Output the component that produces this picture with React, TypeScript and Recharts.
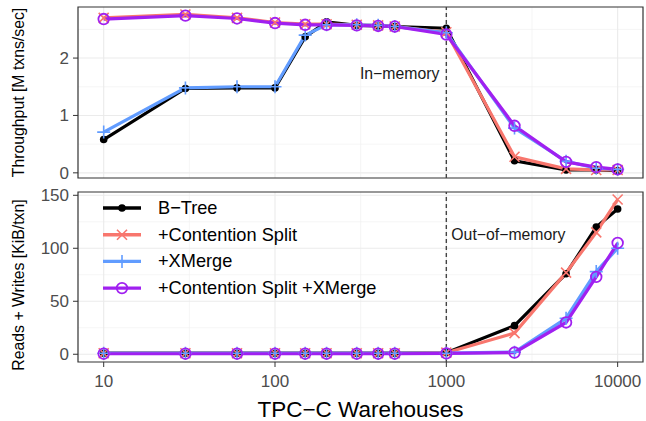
import React from 'react';
import { LineChart, Line, XAxis, YAxis, CartesianGrid, ReferenceLine, ReferenceArea, Legend } from 'recharts';

const FONT = '"Liberation Sans", Arial, Helvetica, sans-serif';

// TPC-C warehouse counts (x axis, log scale)
const warehouses = [10, 30, 60, 100, 150, 200, 300, 400, 500, 1000, 2500, 5000, 7500, 10000];

// Throughput [M txns/sec]
const tputBTree = [0.58, 1.47, 1.48, 1.48, 2.37, 2.63, 2.57, 2.56, 2.55, 2.52, 0.21, 0.05, 0.05, 0.04];
const tputSplit = [2.70, 2.76, 2.70, 2.62, 2.59, 2.59, 2.58, 2.57, 2.55, 2.45, 0.28, 0.07, 0.05, 0.05];
const tputXMerge = [0.71, 1.48, 1.50, 1.50, 2.40, 2.58, 2.58, 2.57, 2.55, 2.44, 0.78, 0.20, 0.08, 0.06];
const tputBoth = [2.68, 2.74, 2.69, 2.61, 2.58, 2.58, 2.57, 2.56, 2.55, 2.41, 0.82, 0.19, 0.10, 0.06];

// Reads + Writes [KiB/txn]
const ioBTree = [1, 1, 1, 1, 1, 1, 1, 1, 1, 1.5, 27, 76, 120, 137];
const ioSplit = [1, 1, 1, 1, 1, 1, 1, 1, 1, 1.5, 20, 77, 115, 146];
const ioXMerge = [1, 1, 1, 1, 1, 1, 1, 1, 1, 1, 2, 34, 78, 100];
const ioBoth = [0.5, 0.5, 0.5, 0.5, 0.5, 0.5, 0.5, 0.5, 0.5, 0.8, 1.6, 30, 73, 105];

const xTicks = [10, 100, 1000, 10000];
const xMinor = [31.62, 316.2, 3162];
const xDomain: [number, number] = [7.08, 14060];

const seriesMeta = [
  { key: 'btree', name: 'B−Tree', color: '#000000', marker: 'dot' },
  { key: 'split', name: '+Contention Split', color: '#F8766D', marker: 'cross' },
  { key: 'xmerge', name: '+XMerge', color: '#619CFF', marker: 'plus' },
  { key: 'both', name: '+Contention Split +XMerge', color: '#A020F0', marker: 'ring' },
];

const tputData = warehouses.map((w, i) => ({
  w, btree: tputBTree[i], split: tputSplit[i], xmerge: tputXMerge[i], both: tputBoth[i],
}));
const ioData = warehouses.map((w, i) => ({
  w, btree: ioBTree[i], split: ioSplit[i], xmerge: ioXMerge[i], both: ioBoth[i],
}));

const BOT_TOP = 186; // page offset of the lower panel's chart

function drawMarker(marker: string, color: string, cx: number, cy: number) {
  if (marker === 'dot') return <circle cx={cx} cy={cy} r={3.8} fill={color} />;
  if (marker === 'cross') {
    const d = 5;
    return <path d={`M${cx - d},${cy - d}L${cx + d},${cy + d}M${cx - d},${cy + d}L${cx + d},${cy - d}`} stroke={color} strokeWidth={1.6} fill="none" />;
  }
  if (marker === 'plus') {
    const d = 6.5;
    return <path d={`M${cx - d},${cy}L${cx + d},${cy}M${cx},${cy - d}L${cx},${cy + d}`} stroke={color} strokeWidth={1.6} fill="none" />;
  }
  return <circle cx={cx} cy={cy} r={5.3} fill="none" stroke={color} strokeWidth={1.8} />;
}

const YTitle = (props: any) => {
  const { viewBox, text, shift = 0 } = props;
  const cx = 18;
  const cy = viewBox.y + viewBox.height / 2 + shift;
  return (
    <text x={cx} y={cy} transform={`rotate(-90 ${cx} ${cy})`} textAnchor="middle" dominantBaseline="central"
      fontSize={15.8} fontFamily={FONT} fill="#000">{text}</text>
  );
};

const NoteLabel = (props: any) => {
  const { viewBox, text, dx, dy, anchor } = props;
  return (
    <text x={viewBox.x + dx} y={viewBox.y + dy} textAnchor={anchor} dominantBaseline="central"
      fontSize={15.8} fontFamily={FONT} fill="#1A1A1A">{text}</text>
  );
};

const XTitle = (props: any) => {
  const { viewBox } = props;
  return (
    <text x={viewBox.x + viewBox.width / 2} y={416.5 - BOT_TOP} textAnchor="middle"
      fontSize={22.5} fontFamily={FONT} fill="#000">TPC−C Warehouses</text>
  );
};

const renderLegend = () => (
  <svg width={520} height={125} style={{ display: 'block' }}>
    {seriesMeta.map((s, i) => {
      const y = 208 - BOT_TOP + i * 26.7;
      return (
        <g key={s.key}>
          <line x1={103} x2={141} y1={y} y2={y} stroke={s.color} strokeWidth={3.4} />
          {drawMarker(s.marker, s.color, 122, y)}
          <text x={158} y={y} dominantBaseline="central" fontSize={18.2} fontFamily={FONT} fill="#000">{s.name}</text>
        </g>
      );
    })}
  </svg>
);

const tickStyle = { fill: '#4D4D4D', fontSize: 17, fontFamily: FONT };

function seriesLines() {
  return seriesMeta.map((s) => (
    <Line
      key={s.key}
      dataKey={s.key}
      name={s.name}
      type="linear"
      stroke={s.color}
      strokeWidth={3.2}
      isAnimationActive={false}
      activeDot={false}
      dot={(p: any) => <g key={`${s.key}-${p.index}`}>{drawMarker(s.marker, s.color, p.cx, p.cy)}</g>}
    />
  ));
}

export default function App() {
  const topDomain: [number, number] = [-0.09, 2.89];
  const botDomain: [number, number] = [-7.3, 153.1];
  return (
    <div style={{ position: 'absolute', left: 0, top: 0, width: 646, height: 421, background: '#fff' }}>
      <div style={{ position: 'absolute', left: 0, top: 0 }}>
        <LineChart width={646} height={BOT_TOP} data={tputData} margin={{ top: 7, right: 3, bottom: BOT_TOP - 178, left: 0 }}>
          <CartesianGrid verticalValues={xMinor} horizontalValues={[0.5, 1.5, 2.5]} stroke="#F0F0F0" strokeWidth={0.7} />
          <CartesianGrid verticalValues={xTicks} horizontalValues={[0, 1, 2]} stroke="#EBEBEB" strokeWidth={1.1} />
          <XAxis dataKey="w" type="number" scale="log" domain={xDomain} allowDataOverflow ticks={xTicks} hide />
          <YAxis type="number" domain={topDomain} allowDataOverflow ticks={[0, 1, 2]} interval={0} width={78}
            axisLine={false} tickSize={5} tickMargin={4} tickLine={{ stroke: '#333' }} tick={tickStyle}
            label={<YTitle text="Throughput [M txns/sec]" />} />
          <ReferenceLine x={1000} stroke="#444" strokeWidth={1.4} strokeDasharray="4 3"
            label={<NoteLabel text="In−memory" dx={-7} dy={66} anchor="end" />} />
          {seriesLines()}
          <ReferenceArea x1={xDomain[0]} x2={xDomain[1]} y1={topDomain[0]} y2={topDomain[1]} ifOverflow="visible"
            fill="none" stroke="#333" strokeWidth={1.2} />
        </LineChart>
      </div>
      <div style={{ position: 'absolute', left: 0, top: BOT_TOP }}>
        <LineChart width={646} height={421 - BOT_TOP} data={ioData} margin={{ top: 192 - BOT_TOP, right: 3, bottom: 0, left: 0 }}>
          <CartesianGrid verticalValues={xMinor} horizontalValues={[25, 75, 125]} stroke="#F0F0F0" strokeWidth={0.7} />
          <CartesianGrid verticalValues={xTicks} horizontalValues={[0, 50, 100, 150]} stroke="#EBEBEB" strokeWidth={1.1} />
          <XAxis dataKey="w" type="number" scale="log" domain={xDomain} allowDataOverflow ticks={xTicks} interval={0} height={59}
            axisLine={false} tickSize={5} tickMargin={8} tickLine={{ stroke: '#333' }} tick={tickStyle}
            label={<XTitle />} />
          <YAxis type="number" domain={botDomain} allowDataOverflow ticks={[0, 50, 100, 150]} interval={0} width={78}
            axisLine={false} tickSize={5} tickMargin={4} tickLine={{ stroke: '#333' }} tick={tickStyle}
            label={<YTitle text="Reads + Writes [KiB/txn]" shift={8} />} />
          <ReferenceLine x={1000} stroke="#444" strokeWidth={1.4} strokeDasharray="4 3"
            label={<NoteLabel text="Out−of−memory" dx={5} dy={42} anchor="start" />} />
          {seriesLines()}
          <ReferenceArea x1={xDomain[0]} x2={xDomain[1]} y1={botDomain[0]} y2={botDomain[1]} ifOverflow="visible"
            fill="none" stroke="#333" strokeWidth={1.2} />
          <Legend layout="vertical" align="center" verticalAlign="middle" content={renderLegend}
            wrapperStyle={{ left: 0, top: 0, width: 520, height: 125 }} />
        </LineChart>
      </div>
    </div>
  );
}
